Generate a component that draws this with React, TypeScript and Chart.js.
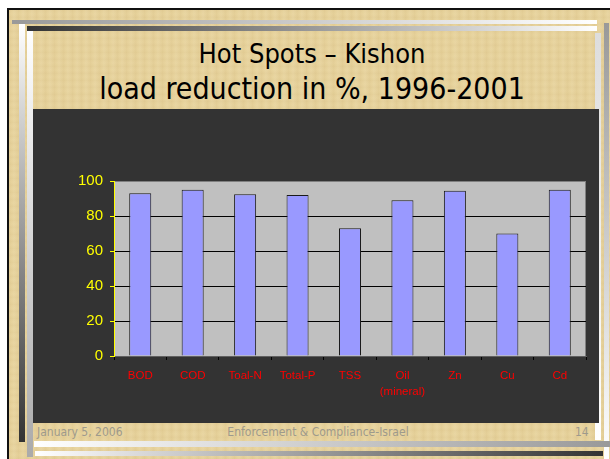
import React, { useEffect, useRef } from "react";
import { Chart, registerables } from "chart.js";

Chart.register(...registerables);

const categories: (string | string[])[] = ["BOD", "COD", "Toal-N", "Total-P", "TSS", ["Oil", "(mineral)"], "Zn", "Cu", "Cd"];
const reductionPct = [93, 95, 92.5, 92, 73, 89, 94.5, 70, 95];
const yMin = 0;
const yMax = 100;
const yStep = 20;

const titleLine1 = "Hot Spots \u2013 Kishon";
const titleLine2 = "load reduction in %, 1996-2001";
const footerLeft = "January 5, 2006";
const footerCenter = "Enforcement & Compliance-Israel";
const footerRight = "14";

const plotBg = {
  id: "plotBg",
  beforeDraw(chart: any) {
    const { ctx, chartArea } = chart;
    if (!chartArea) return;
    ctx.save();
    ctx.fillStyle = "#c0c0c0";
    ctx.fillRect(chartArea.left, chartArea.top, chartArea.right - chartArea.left, chartArea.bottom - chartArea.top);
    ctx.strokeStyle = "#808080";
    ctx.lineWidth = 1;
    ctx.strokeRect(chartArea.left + 0.5, chartArea.top + 0.5, chartArea.right - chartArea.left - 1, chartArea.bottom - chartArea.top);
    ctx.restore();
  },
};

const bar = (style: React.CSSProperties): React.CSSProperties => ({ position: "absolute", ...style });

export default function App() {
  const ref = useRef<HTMLCanvasElement>(null);

  useEffect(() => {
    if (!ref.current) return;
    const chart = new Chart(ref.current, {
      type: "bar",
      data: {
        labels: categories,
        datasets: [
          {
            data: reductionPct,
            backgroundColor: "#9999ff",
            borderColor: "#1a1a1a",
            borderWidth: 1,
            barPercentage: 0.42,
            categoryPercentage: 1,
          },
        ],
      },
      options: {
        responsive: false,
        animation: false,
        devicePixelRatio: 1,
        layout: { padding: { left: 41, right: 13, top: 72, bottom: 17 } },
        plugins: { legend: { display: false }, tooltip: { enabled: false } },
        scales: {
          x: {
            afterFit: (s: any) => {
              s.height = 50;
            },
            grid: { drawOnChartArea: false, drawTicks: true, tickLength: 4, tickColor: "#000", offset: true },
            border: { color: "#606060", width: 1 },
            ticks: {
              color: "#ff0000",
              font: { family: "'Liberation Sans', Arial, sans-serif", size: 11.5, lineHeight: 1.4 },
              padding: 8,
              autoSkip: false,
              maxRotation: 0,
            },
          },
          y: {
            min: yMin,
            max: yMax,
            afterFit: (s: any) => {
              s.width = 40;
            },
            grid: {
              color: (c: any) => (c.tick && (c.tick.value === yMin || c.tick.value === yMax) ? "rgba(0,0,0,0)" : "#000"),
              tickColor: "#ffff00",
              tickLength: 4,
              lineWidth: 1,
            },
            border: { color: "#ffff00", width: 1 },
            ticks: {
              stepSize: yStep,
              color: "#ffff00",
              font: { family: "'Liberation Sans', Arial, sans-serif", size: 15 },
              padding: 7,
            },
          },
        },
      },
      plugins: [plotBg],
    });
    return () => chart.destroy();
  }, []);

  const textFont = "Tahoma, 'DejaVu Sans Condensed', 'Liberation Sans', sans-serif";

  return (
    <div
      style={{
        position: "fixed",
        left: 0,
        top: 0,
        width: 610,
        height: 459,
        background: "#ffffff",
        overflow: "hidden",
        fontFamily: textFont,
      }}
    >
      <div
        style={bar({
          left: 9,
          top: 10,
          width: 601,
          height: 449,
          background:
            "repeating-linear-gradient(90deg, rgba(150,110,40,0.06) 0px, rgba(150,110,40,0.0) 3px, rgba(255,255,255,0.05) 5px, rgba(150,110,40,0.04) 9px), repeating-linear-gradient(0deg, rgba(150,110,40,0.05) 0px, rgba(255,255,255,0.0) 4px, rgba(150,110,40,0.03) 7px), #e8d49e",
        })}
      />
      <div style={bar({ left: 7, top: 8, width: 603, height: 2, background: "#111" })} />
      <div style={bar({ left: 7, top: 8, width: 2, height: 451, background: "#111" })} />

      <div style={bar({ left: 12, top: 20, width: 585, height: 4, background: "linear-gradient(to right, #999999, #ffffff)" })} />
      <div style={bar({ left: 27, top: 26, width: 570, height: 5, background: "linear-gradient(to right, #333333, #ffffff)" })} />
      <div style={bar({ left: 19, top: 24, width: 6, height: 418, background: "linear-gradient(to bottom, #ffffff, #333333)" })} />
      <div style={bar({ left: 27, top: 31, width: 6, height: 426, background: "linear-gradient(to bottom, #ffffff, #aaaaaa)" })} />
      <div style={bar({ left: 595, top: 33, width: 6, height: 407, background: "linear-gradient(to bottom, #dddddd, #ffffff)" })} />
      <div style={bar({ left: 604, top: 23, width: 5, height: 436, background: "linear-gradient(to bottom, #999999, #ffffff)" })} />
      <div style={bar({ left: 34, top: 441, width: 576, height: 6, background: "linear-gradient(to right, #ffffff, #999999)" })} />
      <div style={bar({ left: 35, top: 451, width: 568, height: 5, background: "linear-gradient(to right, #ffffff, #333333)" })} />

      <div
        style={bar({
          left: 29,
          top: 38,
          width: 566,
          textAlign: "center",
          fontSize: 27,
          lineHeight: "32px",
          color: "#000",
          whiteSpace: "nowrap",
        })}
      >
        {titleLine1}
      </div>
      <div
        style={bar({
          left: 29,
          top: 72,
          width: 566,
          textAlign: "center",
          fontSize: 30,
          lineHeight: "34px",
          color: "#000",
          whiteSpace: "nowrap",
        })}
      >
        {titleLine2}
      </div>

      <div style={bar({ left: 33, top: 109, width: 566, height: 314, background: "#333333" })}>
        <canvas ref={ref} width={566} height={314} style={{ display: "block", width: 566, height: 314 }} />
      </div>

      <div style={bar({ left: 37, top: 424, fontSize: 12, lineHeight: "16px", color: "#9e9a8c", whiteSpace: "nowrap" })}>
        {footerLeft}
      </div>
      <div
        style={bar({ left: 33, top: 424, width: 570, textAlign: "center", fontSize: 12, lineHeight: "16px", color: "#9e9a8c", whiteSpace: "nowrap" })}
      >
        {footerCenter}
      </div>
      <div style={bar({ left: 575, top: 424, fontSize: 12, lineHeight: "16px", color: "#9e9a8c", whiteSpace: "nowrap" })}>
        {footerRight}
      </div>
    </div>
  );
}
